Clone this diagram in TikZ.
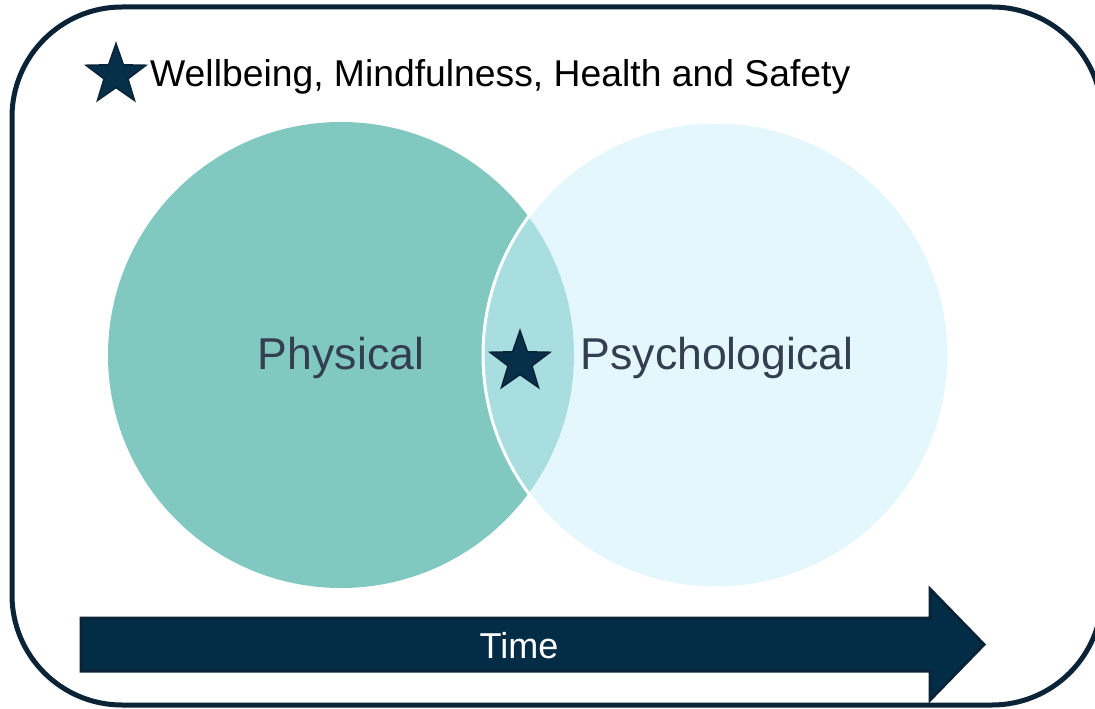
\documentclass[tikz,border=0pt]{standalone}
\usepackage{fontspec}
\setmainfont{Liberation Sans}
\usetikzlibrary{shapes.geometric}
\definecolor{navy}{HTML}{0B2336}
\definecolor{arrowfill}{HTML}{032D47}
\definecolor{starfill}{HTML}{06304A}
\definecolor{physfill}{HTML}{80C8C0}
\definecolor{psychfill}{HTML}{E4F7FC}
\definecolor{lensfill}{HTML}{A8DEDF}
\definecolor{labeltext}{HTML}{333F50}
\tikzset{
  starmark/.style={star, star points=5, star point ratio=2.5, minimum size=63pt,
    inner sep=0pt, fill=starfill, draw=navy, line width=1.5pt},
  circlabel/.style={font=\fontsize{44.6}{50}\selectfont, text=labeltext, anchor=base, inner sep=0pt},
}
\begin{document}
\begin{tikzpicture}[x=1pt,y=-1pt]
\useasboundingbox (0,0) rectangle (1095,709);
\clip (0,0) rectangle (1095,709);
% outer frame
\draw[navy, line width=5pt, rounded corners=110pt] (12,7) rectangle (1102,705);
% the two circles and their overlap
\fill[physfill] (341,355) circle (233);
\fill[psychfill] (716,355) circle (233);
\begin{scope}
  \clip (341,355) circle (233);
  \fill[lensfill] (716,355) circle (233);
\end{scope}
\draw[white, line width=3pt] (716,355) circle (233);
% labels
\node[circlabel] (phys) at (341,369) {Physical};
\node[circlabel] (psych) at (717,369) {Psychological};
\node[starmark] (midstar) at (520,362) {};
% legend
\node[starmark] (legstar) at (116,75) {};
\node[anchor=base west, inner sep=0pt, font=\fontsize{37.3}{42}\selectfont] (legend) at (150,87) {Wellbeing, Mindfulness, Health and Safety};
% time arrow
\draw[navy, fill=arrowfill, line width=3pt, line join=miter]
  (81,618) -- (930,618) -- (930,589) -- (984,644.5) -- (930,700) -- (930,671) -- (81,671) -- cycle;
\node[anchor=base, inner sep=0pt, text=white, font=\fontsize{36}{40}\selectfont] (time) at (519,658) {Time};
\end{tikzpicture}
\end{document}
